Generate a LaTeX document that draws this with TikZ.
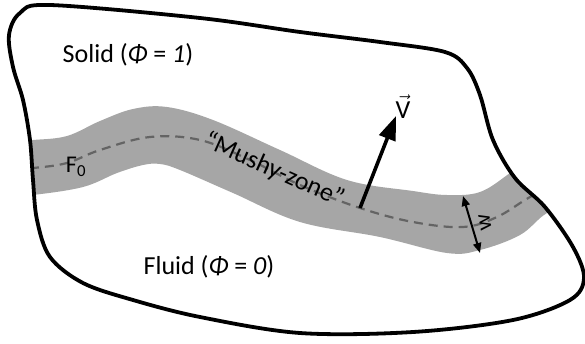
\documentclass[tikz,border=0pt]{standalone}
\usepackage{fontspec}
\setmainfont{Carlito}
\usetikzlibrary{arrows.meta}
\definecolor{bandgray}{RGB}{166,166,166}
\definecolor{dashgray}{RGB}{100,100,100}
\tikzset{
  outline/.style={line width=3.8pt, line join=round},
  bandfill/.style={fill=bandgray, draw=none},
  frontline/.style={dashgray, line width=2.2pt, dash pattern=on 9pt off 6pt},
  lbl/.style={inner sep=0pt, font=\fontsize{26}{30}\selectfont},
  velarrow/.style={line width=3.6pt, -{Triangle[length=24pt,width=17pt]}},
  widtharrow/.style={line width=2pt, {Triangle[length=10pt,width=8pt]}-{Triangle[length=10pt,width=8pt]}}
}
\begin{document}
\begin{tikzpicture}[x=1pt,y=-1pt]
\useasboundingbox (0,0) rectangle (585,343);
\def\boundary{plot[smooth cycle, tension=0.55] coordinates {
 (50,5) (200,18) (300,32) (380,42) (445,52) (467,68) (480,95) (493,140)
 (515,178) (545,207) (573,247) (584,278) (570,300) (513,320) (413,332)
 (300,333) (200,317) (133,300) (83,283) (50,257) (37,220) (33,180)
 (30,140) (23,100) (13,67) (9,35) (20,13)}}
\begin{scope}
  \clip \boundary;
  \fill[bandfill] plot[smooth, tension=0.6] coordinates {
    (0,142) (33,140) (67,136) (100,121) (133,109) (167,107) (213,120)
    (280,150) (347,180) (413,191) (447,195) (480,192) (510,173) (540,150)}
    -- plot[smooth, tension=0.6] coordinates {
    (580,200) (547,213) (520,235) (480,250) (447,253) (380,237) (300,222)
    (233,193) (180,170) (160,164) (143,165) (117,173) (83,187) (33,195) (0,197)}
    -- cycle;
  \draw[frontline] plot[smooth, tension=0.6] coordinates {
    (0,170) (33,168) (67,163) (100,150) (150,137) (200,140) (250,160)
    (300,185) (360,208) (413,222) (463,227) (497,217) (530,197) (570,176)};
\end{scope}
\draw[outline] \boundary;
\node[lbl] (solid) at (128,55) {Solid (\textit{Φ} = \textit{1})};
\node[lbl] (fluid) at (209,267) {Fluid (\textit{Φ} = \textit{0})};
\node[lbl, font=\fontsize{24}{28}\selectfont] (f0) at (76,167) {F\textsubscript{0}};
\node[lbl, rotate=-24] (mushy) at (274,170) {“Mushy-zone”};
\node[lbl] (vel) at (403,107) {$\vec{\textrm{V}}$};
\coordinate (vbase) at (360,208);
\coordinate (vtip) at (396,116);
\draw[velarrow] (vbase) -- (vtip);
\coordinate (wtop) at (463,196);
\coordinate (wbot) at (480,253);
\draw[widtharrow] (wtop) -- (wbot);
\node[lbl, rotate=100, font=\fontsize{23}{26}\selectfont] (wlbl) at (485,222) {w};
\end{tikzpicture}
\end{document}
